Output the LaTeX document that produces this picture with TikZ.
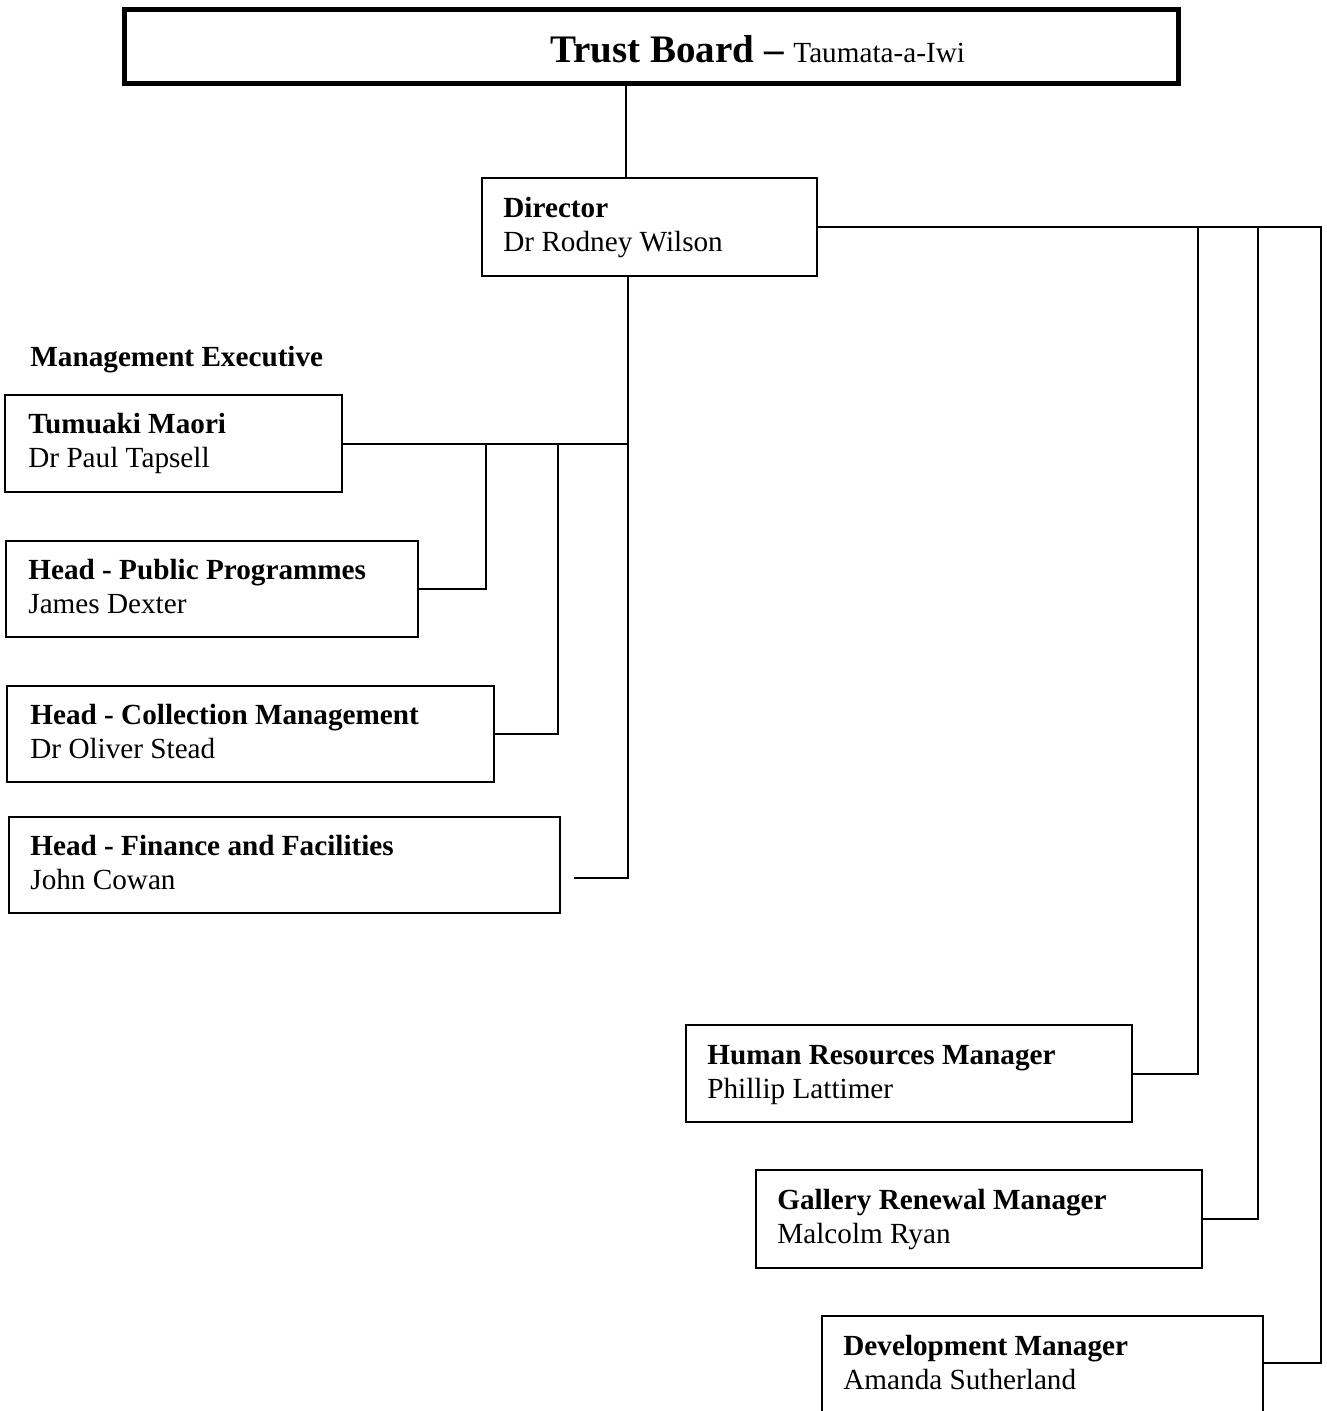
\documentclass[tikz,border=0pt]{standalone}
\usepackage{fontspec}
\setmainfont{Liberation Serif}
\usetikzlibrary{fit}
\begin{document}
\begin{tikzpicture}[x=0.5pt,y=-0.5pt,
  box/.style={draw, line width=1pt, inner sep=0pt, rectangle},
  conn/.style={draw, line width=1pt},
  ttl/.style={anchor=base west, inner sep=0pt, font=\fontsize{14.6}{17}\selectfont\bfseries},
  nm/.style={anchor=base west, inner sep=0pt, font=\fontsize{14.6}{17}\selectfont}]
\clip (0,0) rectangle (1326,1411);
\fill[white] (0,0) rectangle (1326,1411);

% boxes
\node[box, line width=2.5pt, fit={(124,10)(1178,84)}] (tb) {};
\node[box, fit={(482,178)(817,276)}] (dir) {};
\node[box, fit={(5,395)(342,492)}] (tum) {};
\node[box, fit={(6,541)(418,637)}] (pub) {};
\node[box, fit={(7,686)(494,782)}] (col) {};
\node[box, fit={(9,817)(560,913)}] (fin) {};
\node[box, fit={(686,1025)(1132,1122)}] (hr) {};
\node[box, fit={(756,1170)(1202,1268)}] (gal) {};
\node[box, fit={(822,1316)(1263,1440)}] (dev) {};

% texts
\node[anchor=base west, inner sep=0pt] (tbt) at (550,63)
  {\fontsize{19.5}{22}\selectfont\bfseries Trust Board \textendash{} \fontsize{14.6}{17}\selectfont\mdseries Taumata-a-Iwi};
\node[ttl] (dirt) at (503,218) {Director};
\node[nm] (dirn) at (503,252) {Dr Rodney Wilson};
\node[ttl] (met) at (30,367) {Management Executive};
\node[ttl] (tumt) at (28,433) {Tumuaki Maori};
\node[nm] (tumn) at (28,467) {Dr Paul Tapsell};
\node[ttl] (pubt) at (28,579) {Head - Public Programmes};
\node[nm] (pubn) at (28,613) {James Dexter};
\node[ttl] (colt) at (30,724) {Head - Collection Management};
\node[nm] (coln) at (30,758) {Dr Oliver Stead};
\node[ttl] (fint) at (30,855) {Head - Finance and Facilities};
\node[nm] (finn) at (30,889) {John Cowan};
\node[ttl] (hrt) at (707,1064) {Human Resources Manager};
\node[nm] (hrn) at (707,1098) {Phillip Lattimer};
\node[ttl] (galt) at (777,1209) {Gallery Renewal Manager};
\node[nm] (galn) at (777,1243) {Malcolm Ryan};
\node[ttl] (devt) at (843,1355) {Development Manager};
\node[nm] (devn) at (843,1389) {Amanda Sutherland};

% bus coordinates
\coordinate (xa) at (626,0);
\coordinate (xb) at (628,0);
\coordinate (xp) at (486,0);
\coordinate (xc) at (558,0);
\coordinate (xh) at (1198,0);
\coordinate (xg) at (1258,0);
\coordinate (xd) at (1321,0);
\coordinate (yf) at (0,878);
\coordinate (yd) at (0,1363);
\coordinate (fend) at (574,878);

% connectors
\draw[conn] (tb.south -| xa) -- (dir.north -| xa);
\draw[conn] (dir.south -| xb) -- (xb |- yf) -- (fend);
\draw[conn] (tum.east) -- (tum.east -| xb);
\draw[conn] (tum.east -| xp) -- (xp |- pub.east) -- (pub.east);
\draw[conn] (tum.east -| xc) -- (xc |- col.east) -- (col.east);
\draw[conn] (dir.east) -- (dir.east -| xd) -- (xd |- yd) -- (dev.east |- yd);
\draw[conn] (dir.east -| xh) -- (xh |- hr.east) -- (hr.east);
\draw[conn] (dir.east -| xg) -- (xg |- gal.east) -- (gal.east);
\end{tikzpicture}
\end{document}
